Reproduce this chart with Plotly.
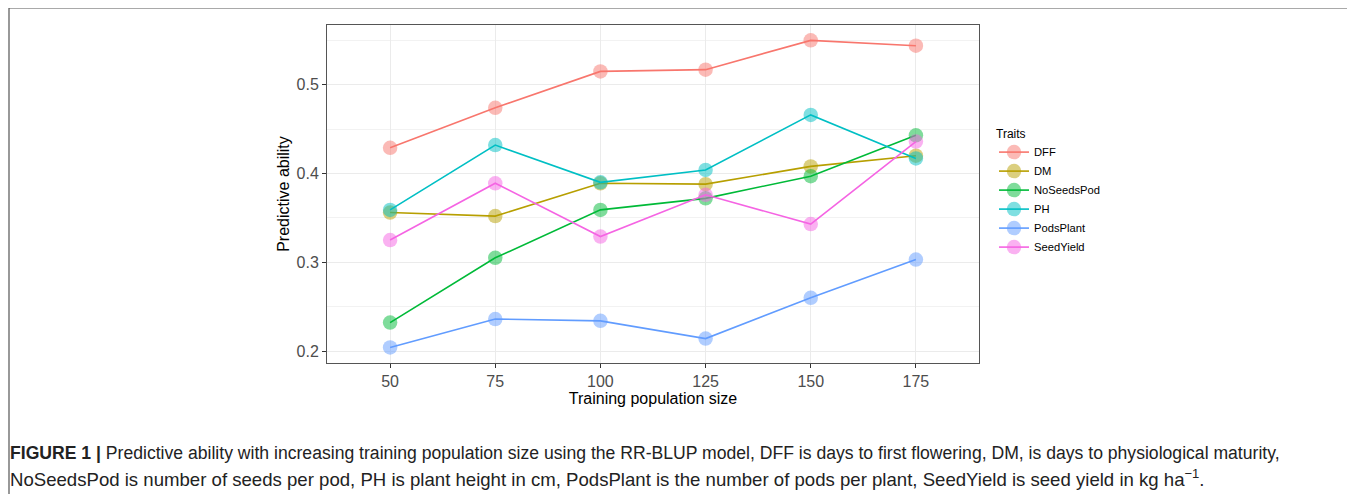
import plotly.graph_objects as go

sizes = [50, 75, 100, 125, 150, 175]
traits = ["DFF", "DM", "NoSeedsPod", "PH", "PodsPlant", "SeedYield"]
colors = ["#F8766D", "#B79F00", "#00BA38", "#00BFC4", "#619CFF", "#F564E3"]
DFF = [0.429, 0.474, 0.515, 0.517, 0.550, 0.544]
DM = [0.356, 0.352, 0.389, 0.388, 0.408, 0.420]
NoSeedsPod = [0.232, 0.305, 0.359, 0.372, 0.397, 0.443]
PH = [0.359, 0.432, 0.390, 0.404, 0.466, 0.417]
PodsPlant = [0.204, 0.236, 0.234, 0.214, 0.260, 0.303]
SeedYield = [0.325, 0.389, 0.329, 0.376, 0.343, 0.436]
values = [DFF, DM, NoSeedsPod, PH, PodsPlant, SeedYield]

fig = go.Figure()
for name, col, vals in zip(traits, colors, values):
    fig.add_trace(go.Scatter(
        x=sizes, y=vals, name=name, mode="lines+markers",
        line=dict(color=col, width=1.6),
        marker=dict(color=col, size=14.5, opacity=0.5),
    ))

# page body adds an 8px offset; work in screen coords and subtract it
OFF = 8
W, H = 1355 - OFF, 494 - OFF
L, R, T, B = 327 - OFF, 979 - OFF, 25 - OFF, 363 - OFF
pw, ph = R - L, B - T

def px(x):
    return (x - OFF - L) / pw

def py(y):
    return (B - (y - OFF)) / ph

fig.update_layout(
    width=W, height=H,
    margin=dict(l=L, r=W - R, t=T, b=H - B),
    paper_bgcolor="white", plot_bgcolor="white",
    font=dict(family="Liberation Sans, Arial, sans-serif", color="#4d4d4d"),
    showlegend=True,
    legend=dict(
        title=dict(text="Traits", font=dict(size=12, color="black")),
        font=dict(size=11.2, color="black"),
        x=px(994), y=py(122), xanchor="left", yanchor="top",
        tracegroupgap=0, itemwidth=30,
        bgcolor="rgba(0,0,0,0)",
    ),
    xaxis=dict(
        range=[35, 190], tickvals=sizes, ticktext=[str(s) for s in sizes],
        showgrid=True, gridcolor="#ebebeb", gridwidth=1,
        zeroline=False, showline=True, linecolor="#555555", linewidth=1, mirror=True,
        ticks="outside", ticklen=4, tickcolor="#333333",
        tickfont=dict(size=16, color="#4d4d4d"),
        title=dict(text="Training population size", font=dict(size=16, color="black"), standoff=2),
    ),
    yaxis=dict(
        range=[0.1865, 0.5673], tickvals=[0.2, 0.3, 0.4, 0.5],
        ticktext=["0.2", "0.3", "0.4", "0.5"],
        showgrid=True, gridcolor="#ebebeb", gridwidth=1,
        minor=dict(tickvals=[0.25, 0.35, 0.45, 0.55], showgrid=True, gridcolor="#f2f2f2", gridwidth=0.6, ticks=""),
        zeroline=False, showline=True, linecolor="#555555", linewidth=1, mirror=True,
        ticks="outside", ticklen=4, tickcolor="#333333",
        tickfont=dict(size=16, color="#4d4d4d"),
        title=dict(text="Predictive ability", font=dict(size=16, color="black"), standoff=2),
    ),
)

# outer figure frame
fig.add_shape(type="rect", xref="paper", yref="paper",
              x0=px(9), x1=px(1354), y0=py(8), y1=py(520),
              line=dict(color="#555555", width=1.2), fillcolor="rgba(0,0,0,0)", layer="below")

cap_font = dict(family="Liberation Sans Narrow, Arial Narrow, Liberation Sans, sans-serif", size=17.6, color="#222222")
fig.add_annotation(
    xref="paper", yref="paper", x=px(8), y=py(453), xanchor="left", yanchor="middle",
    showarrow=False, font=cap_font,
    text="<b>FIGURE 1 |</b> Predictive ability with increasing training population size using the RR-BLUP model, DFF is days to first flowering, DM, is days to physiological maturity,",
)
fig.add_annotation(
    xref="paper", yref="paper", x=px(8), y=py(478), xanchor="left", yanchor="middle",
    showarrow=False, font=dict(cap_font, size=18.6),
    text="NoSeedsPod is number of seeds per pod, PH is plant height in cm, PodsPlant is the number of pods per plant, SeedYield is seed yield in kg ha<sup>−1</sup>.",
)

fig.write_html("out.html")
